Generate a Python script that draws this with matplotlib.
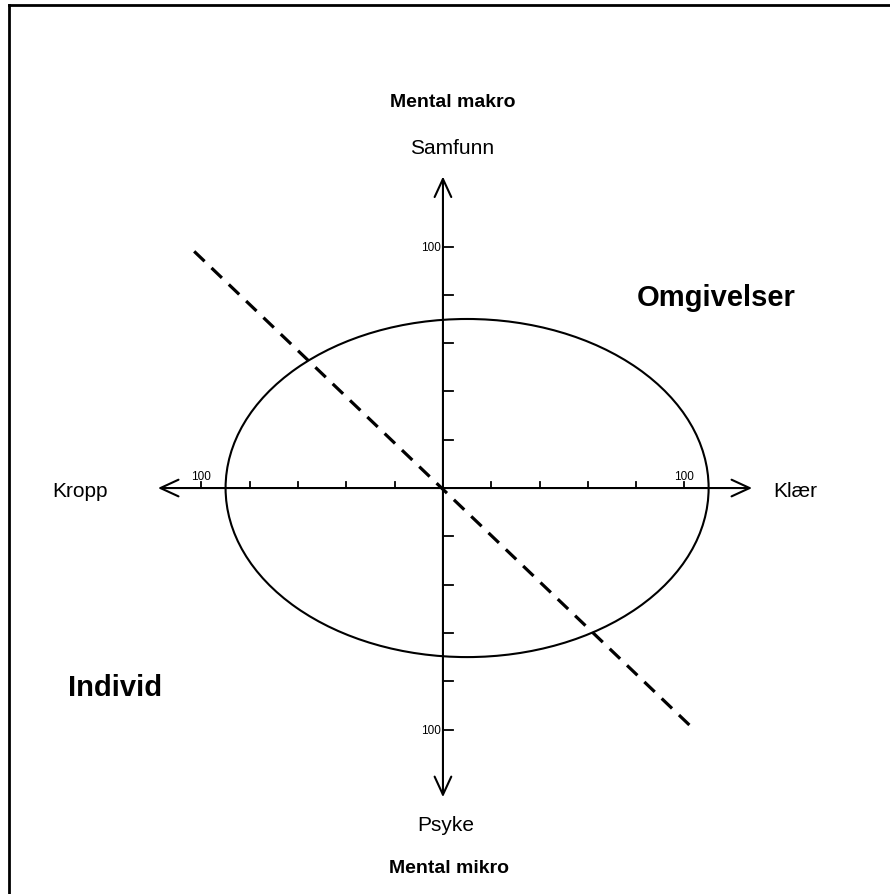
import matplotlib.pyplot as plt
import numpy as np
from matplotlib.patches import Ellipse
from matplotlib.lines import Line2D

plt.rcParams['font.family'] = ['Liberation Sans', 'DejaVu Sans']

# axis extents (arrow tips), in chart units
x_axis = (-118, 128)
y_axis = (-128, 129)
tick_vals = [-100, -80, -60, -40, -20, 20, 40, 60, 80, 100]

# ellipse: centre, width, height
ell_center = (10, 0)
ell_w, ell_h = 200, 140

# dashed diagonal
diag_x = [-103, 104]
diag_y = [98, -100]

fig = plt.figure(figsize=(8.9, 8.95), dpi=100)
ax = fig.add_axes([0, 0, 1, 1])
ax.set_xlim(-183.4, 185.1)
ax.set_ylim(-168.1, 202.5)
ax.axis('off')

arrow = dict(arrowstyle='<->, head_length=1.3, head_width=0.6', lw=1.5,
             color='black', shrinkA=0, shrinkB=0, mutation_scale=10)
ax.annotate('', xy=(x_axis[1], 0), xytext=(x_axis[0], 0), arrowprops=arrow)
ax.annotate('', xy=(0, y_axis[1]), xytext=(0, y_axis[0]), arrowprops=arrow)

# ticks
for v in tick_vals:
    ax.plot([v, v], [0, 2.6], color='black', lw=1.3)
    ax.plot([0, 4], [v, v], color='black', lw=1.3)
for v in (-100, 100):
    ax.text(v, 2.5, '100', ha='center', va='bottom', fontsize=8.5)
    ax.text(-0.8, v, '100', ha='right', va='center', fontsize=8.5)

ax.add_patch(Ellipse(ell_center, ell_w, ell_h, fill=False, lw=1.5, color='black'))
ax.plot(diag_x, diag_y, color='black', lw=2.3, dashes=(4.5, 3))

ax.text(4, 160, 'Mental makro', ha='center', va='center', fontsize=14, fontweight='bold')
ax.text(4, 141, 'Samfunn', ha='center', va='center', fontsize=15)
ax.text(1, -139.5, 'Psyke', ha='center', va='center', fontsize=15)
ax.text(2.5, -157, 'Mental mikro', ha='center', va='center', fontsize=14, fontweight='bold')
ax.text(-150.3, -1.2, 'Kropp', ha='center', va='center', fontsize=15)
ax.text(145.8, -1.2, 'Klær', ha='center', va='center', fontsize=15)
ax.text(113, 79, 'Omgivelser', ha='center', va='center', fontsize=21, fontweight='bold')
ax.text(-135.8, -82.4, 'Individ', ha='center', va='center', fontsize=21, fontweight='bold')

# frame edges (top and left only)
fig.add_artist(Line2D([8.5 / 890, 1], [1 - 5.5 / 895, 1 - 5.5 / 895], color='black', lw=2))
fig.add_artist(Line2D([8.5 / 890, 8.5 / 890], [0, 1 - 5.5 / 895], color='black', lw=2))

fig.savefig('out.png', dpi=100)
